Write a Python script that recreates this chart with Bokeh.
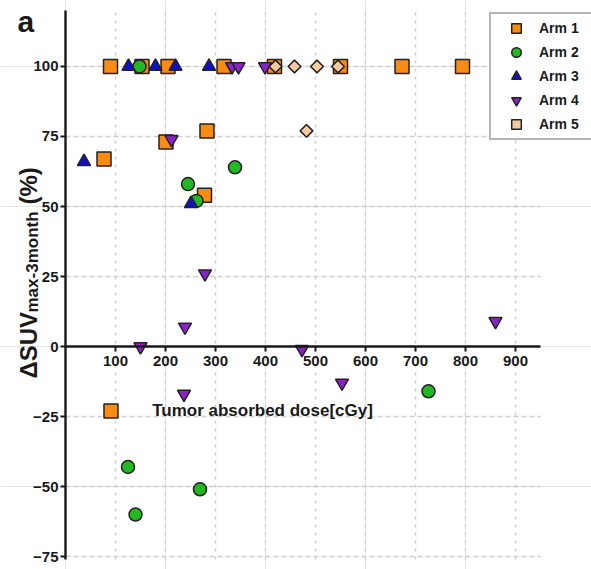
import math
from bokeh.plotting import figure
from bokeh.models import (LinearAxis, FixedTicker, Range1d, Label, Legend,
                          LegendItem, Grid)
from bokeh.embed import file_html
from bokeh.resources import INLINE

# ---- data ----
arm_names = ["Arm 1", "Arm 2", "Arm 3", "Arm 4", "Arm 5"]

arm1_dose = [90, 153, 205, 317, 418, 550, 673, 794, 77, 201, 283, 278, 91]
arm1_dsuv = [100, 100, 100, 100, 100, 100, 100, 100, 67, 73, 77, 54, -23]

arm2_dose = [148, 245, 262, 339, 125, 140, 269, 726]
arm2_dsuv = [100, 58, 52, 64, -43, -60, -51, -16]

arm3_dose = [126, 180, 220, 287, 37, 251]
arm3_dsuv = [100, 100, 100, 100, 66, 51]

arm4_dose = [333, 346, 399, 212, 279, 239, 150, 473, 860, 237, 553]
arm4_dsuv = [100, 100, 100, 74, 26, 7, 0, -1, 9, -17, -13]

arm5_dose = [420, 458, 503, 545, 482]
arm5_dsuv = [100, 100, 100, 100, 77]

x_ticks = [100, 200, 300, 400, 500, 600, 700, 800, 900]
y_ticks = [-75, -50, -25, 0, 25, 50, 75, 100]

FONT = "Liberation Sans"
INK = "#1a1a1a"

X_AXIS_END = 950
Y_AXIS_LO, Y_AXIS_HI = -76, 120

W, H = 591, 569
# frame covers the whole canvas; axes sit inside it at fixed locations
p = figure(width=W, height=H, output_backend="svg", toolbar_location=None,
           x_range=Range1d(-130, 1052), y_range=Range1d(-79.64, 123.57),
           x_axis_location=None, y_axis_location=None,
           min_border_left=0, min_border_right=0, min_border_top=0,
           min_border_bottom=0)
p.outline_line_color = None
p.background_fill_color = "white"

# grids
GRID_COLOR = "#cfcfcf"
if "cross_bounds" in Grid.properties():
    p.add_layout(Grid(dimension=0, ticker=FixedTicker(ticks=x_ticks),
                      cross_bounds=(Y_AXIS_LO, Y_AXIS_HI),
                      grid_line_color=GRID_COLOR, grid_line_dash="3 5",
                      grid_line_width=1.5))
    p.add_layout(Grid(dimension=1, ticker=FixedTicker(ticks=y_ticks),
                      cross_bounds=(0, X_AXIS_END),
                      grid_line_color=GRID_COLOR, grid_line_dash="5 3",
                      grid_line_width=1.5))
else:
    p.segment(x0=x_ticks, y0=[Y_AXIS_LO] * len(x_ticks),
              x1=x_ticks, y1=[Y_AXIS_HI] * len(x_ticks),
              line_color=GRID_COLOR, line_dash="3 5", line_width=1.5,
              level="underlay")
    p.segment(x0=[0] * len(y_ticks), y0=y_ticks,
              x1=[X_AXIS_END] * len(y_ticks), y1=y_ticks,
              line_color=GRID_COLOR, line_dash="5 3", line_width=1.5,
              level="underlay")

# axes
xaxis = LinearAxis(fixed_location=0, bounds=(0, X_AXIS_END),
                   ticker=FixedTicker(ticks=x_ticks))
yaxis = LinearAxis(fixed_location=0, bounds=(Y_AXIS_LO, Y_AXIS_HI),
                   ticker=FixedTicker(ticks=y_ticks))
for ax in (xaxis, yaxis):
    ax.axis_line_color = INK
    ax.axis_line_width = 2.4
    ax.major_tick_line_color = INK
    ax.major_tick_line_width = 2
    ax.major_tick_in = 0
    ax.major_tick_out = 5
    ax.minor_tick_line_color = None
    ax.major_label_text_font = FONT
    ax.major_label_text_font_style = "bold"
    ax.major_label_text_font_size = "15px"
    ax.major_label_text_color = INK
xaxis.major_label_standoff = 4
yaxis.major_label_standoff = 2
p.add_layout(xaxis, "below")
p.add_layout(yaxis, "left")

# scatter series
series = [
    (arm1_dose, arm1_dsuv, "square", 14, "#F98A12", 0),
    (arm2_dose, arm2_dsuv, "circle", 13, "#22B822", 0),
    (arm3_dose, arm3_dsuv, "triangle", 13, "#1010C8", 0),
    (arm4_dose, arm4_dsuv, "inverted_triangle", 13, "#8A22C8", 0),
    (arm5_dose, arm5_dsuv, "square", 9, "#F6C9A0", math.pi / 4),
]
items = []
for name, (xs, ys, marker, size, color, ang) in zip(arm_names, series):
    r = p.scatter(xs, ys, marker=marker, size=size, angle=ang,
                  fill_color=color, line_color="#222222", line_width=1.5)
    items.append(LegendItem(label=name, renderers=[r]))

legend = Legend(items=items, location=(489, 429),
                padding=2, spacing=0, glyph_height=24, label_height=24,
                glyph_width=46, label_standoff=0, label_width=60,
                border_line_color="#6e6e6e", border_line_width=2,
                background_fill_color="white", background_fill_alpha=1,
                label_text_font=FONT, label_text_font_style="bold",
                label_text_font_size="14px", label_text_color=INK)
p.add_layout(legend)

# texts
p.add_layout(Label(x=394, y=-23, text="Tumor absorbed dose[cGy]",
                   text_align="center", text_baseline="middle",
                   text_font=FONT, text_font_style="bold",
                   text_font_size="17px", text_color=INK))

p.add_layout(Label(x=17, y=H - 21, x_units="screen", y_units="screen",
                   text="a", text_font=FONT, text_font_style="bold",
                   text_font_size="30px", text_color=INK,
                   text_baseline="alphabetic"))

ylab_main = "ΔSUV"
ylab_sub = "max-3month"
ylab_unit = "(%)"
p.add_layout(Label(x=28, y=H - 378, x_units="screen", y_units="screen",
                   text=ylab_main, angle=math.pi / 2,
                   text_font=FONT, text_font_style="bold",
                   text_font_size="24px", text_color=INK,
                   text_baseline="alphabetic", text_align="left"))
p.add_layout(Label(x=32, y=H - 378 + 66, x_units="screen", y_units="screen",
                   text=ylab_sub, angle=math.pi / 2,
                   text_font=FONT, text_font_style="bold",
                   text_font_size="17px", text_color=INK,
                   text_baseline="alphabetic", text_align="left"))
p.add_layout(Label(x=28, y=H - 378 + 66 + 108, x_units="screen",
                   y_units="screen", text=ylab_unit, angle=math.pi / 2,
                   text_font=FONT, text_font_style="bold",
                   text_font_size="24px", text_color=INK,
                   text_baseline="alphabetic", text_align="left"))

open("out.html", "w").write(file_html(p, INLINE))
